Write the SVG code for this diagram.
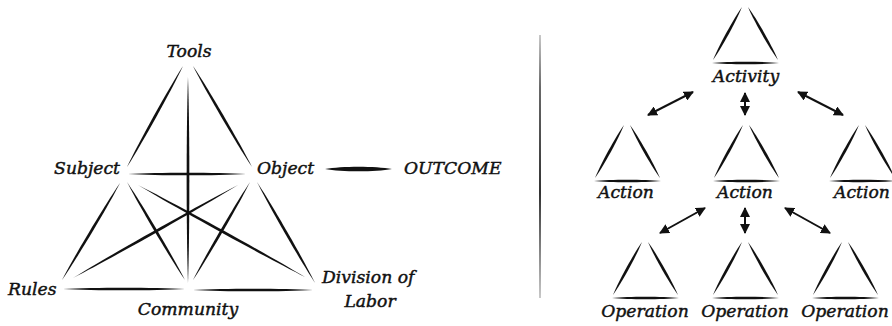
<svg xmlns="http://www.w3.org/2000/svg" xmlns:xlink="http://www.w3.org/1999/xlink" width="892" height="326" viewBox="0 0 892 326">
<style>
.t{font-family:"DejaVu Serif","Liberation Serif",serif;font-style:italic;font-weight:normal;font-size:17.2px;fill:#111;stroke:#111;stroke-width:0.45}
.m{text-anchor:middle}
.s{fill:#111}
.a{stroke:#111;stroke-width:2;fill:none;marker-start:url(#h);marker-end:url(#h)}
</style>
<defs>
<path id="s" class="s" d="M0,0 C25,-1.8 75,-1.8 100,0 C75,1.8 25,1.8 0,0Z"/>
<marker id="h" viewBox="0 0 10 10" refX="9" refY="5" markerWidth="10" markerHeight="10" markerUnits="userSpaceOnUse" orient="auto-start-reverse"><path d="M0,0 L10,5 L0,10z" fill="#111"/></marker>
<g id="tri">
<use xlink:href="#s" transform="translate(-32,55) rotate(-61.3) scale(0.604,1)"/>
<use xlink:href="#s" transform="translate(3,2) rotate(60.5) scale(0.609,1)"/>
<use xlink:href="#s" transform="translate(-33,58) scale(0.67,0.9)"/>
</g>
<linearGradient id="sep" x1="0" y1="0" x2="0" y2="1"><stop offset="0" stop-color="#bbb"/><stop offset="0.2" stop-color="#444"/><stop offset="0.6" stop-color="#000"/><stop offset="1" stop-color="#bbb"/></linearGradient>
</defs>
<g id="connectors">
<use xlink:href="#s" transform="translate(127,167) rotate(-61) scale(1.155,1)"/>
<use xlink:href="#s" transform="translate(193,66) rotate(59.7) scale(1.17,1)"/>
<use xlink:href="#s" transform="translate(188,77) rotate(90) scale(2.06,1)"/>
<use xlink:href="#s" transform="translate(128,174) scale(1.18,1)"/>
<use xlink:href="#s" transform="translate(62,280) rotate(-59.1) scale(1.13,1)"/>
<use xlink:href="#s" transform="translate(127,182) rotate(59.4) scale(1.139,1)"/>
<use xlink:href="#s" transform="translate(138,185) rotate(28.85) scale(1.907,1)"/>
<use xlink:href="#s" transform="translate(73,278) rotate(-29.4) scale(1.894,1)"/>
<use xlink:href="#s" transform="translate(193,280) rotate(-59.8) scale(1.134,1)"/>
<use xlink:href="#s" transform="translate(257,182) rotate(60.1) scale(1.165,1)"/>
<use xlink:href="#s" transform="translate(63,289) scale(1.22,1)"/>
<use xlink:href="#s" transform="translate(193,290) scale(1.2,1)"/>
<use xlink:href="#s" transform="translate(325,169) scale(0.67,1.7)"/>
<path class="a" d="M648,115 L693,92"/>
<path class="a" d="M745,93 L745,115"/>
<path class="a" d="M798,92 L843,115"/>
<path class="a" d="M660,233 L705,208"/>
<path class="a" d="M745,208 L745,233"/>
<path class="a" d="M785,208 L830,233"/>
</g>
<rect id="separator" x="539.2" y="35" width="1.6" height="263" fill="url(#sep)"/>
<g id="tools"><text class="t m" x="189" y="57">Tools</text></g>
<g id="subject"><text class="t" x="120" y="174" text-anchor="end">Subject</text></g>
<g id="object"><text class="t" x="257" y="174">Object</text></g>
<g id="outcome"><text class="t" x="404" y="174">OUTCOME</text></g>
<g id="rules"><text class="t" x="8" y="295">Rules</text></g>
<g id="community"><text class="t m" x="188" y="315">Community</text></g>
<g id="division"><text class="t" x="322" y="283">Division of</text><text class="t m" x="370" y="307">Labor</text></g>
<g id="activity"><use xlink:href="#tri" transform="translate(745,5)"/><text class="t m" x="746" y="82">Activity</text></g>
<g id="action1"><use xlink:href="#tri" transform="translate(627,123)"/><text class="t m" x="626" y="198">Action</text></g>
<g id="action2"><use xlink:href="#tri" transform="translate(746,123)"/><text class="t m" x="745" y="198">Action</text></g>
<g id="action3"><use xlink:href="#tri" transform="translate(862,123)"/><text class="t m" x="862" y="198">Action</text></g>
<g id="operation1"><use xlink:href="#tri" transform="translate(645,240)"/><text class="t m" x="645" y="317">Operation</text></g>
<g id="operation2"><use xlink:href="#tri" transform="translate(745,240)"/><text class="t m" x="745" y="317">Operation</text></g>
<g id="operation3"><use xlink:href="#tri" transform="translate(845,240)"/><text class="t m" x="845" y="317">Operation</text></g>
</svg>
